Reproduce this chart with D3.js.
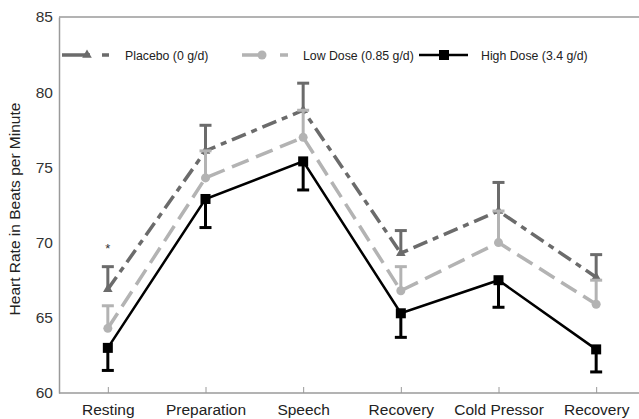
<!DOCTYPE html>
<html>
<head>
<meta charset="utf-8">
<script src="https://cdn.jsdelivr.net/npm/d3@7"></script>
<style>
  body { margin: 0; background: #fff; }
  svg { display: block; font-family: "Liberation Sans", Arial, sans-serif; }
</style>
</head>
<body>
<svg id="chart" width="639" height="419"></svg>
<script>
// categories along the x axis
const phases = ["Resting", "Preparation", "Speech", "Recovery", "Cold Pressor", "Recovery"];
const yTicks = [60, 65, 70, 75, 80, 85];

// mean heart rate per phase
const placebo  = [66.9, 76.1, 78.8, 69.3, 72.1, 67.7];
const lowDose  = [64.3, 74.3, 77.0, 66.8, 70.0, 65.9];
const highDose = [63.0, 72.9, 75.4, 65.3, 67.5, 62.9];

// error bar ends (placebo / low dose go up, high dose goes down)
const placeboErr  = [68.4, 77.8, 80.6, 70.8, 74.0, 69.2];
const lowDoseErr  = [65.8, 76.1, 78.8, 68.4, 72.1, 67.5];
const highDoseErr = [61.5, 71.0, 73.5, 63.7, 65.7, 61.4];

const seriesNames = ["Placebo (0 g/d)", "Low Dose (0.85 g/d)", "High Dose (3.4 g/d)"];

const series = [
  {name: seriesNames[0], values: placebo,  err: placeboErr,  color: "#6b6b6b", dash: "15,6,6,6", width: 3.5, marker: "triangle"},
  {name: seriesNames[1], values: lowDose,  err: lowDoseErr,  color: "#b3b3b3", dash: "18,8",     width: 3.5, marker: "circle"},
  {name: seriesNames[2], values: highDose, err: highDoseErr, color: "#000000", dash: null,       width: 2.5, marker: "square"}
];

const svg = d3.select("#chart");
const plotLeft = 59, plotTop = 17, plotBottom = 393;

const x = d3.scalePoint()
  .domain(d3.range(phases.length))
  .range([plotLeft, 645])
  .padding(0.5);

const y = d3.scaleLinear()
  .domain([60, 85])
  .range([plotBottom, plotTop]);

// frame
svg.append("line")
  .attr("x1", plotLeft).attr("x2", 639).attr("y1", plotTop).attr("y2", plotTop)
  .attr("stroke", "#9a9a9a").attr("stroke-width", 1.5);

const yAxis = svg.append("g")
  .attr("transform", `translate(${plotLeft},0)`)
  .call(d3.axisLeft(y).tickValues(yTicks).tickSize(0).tickPadding(6));
yAxis.select(".domain").attr("stroke", "#9a9a9a").attr("stroke-width", 1.5);
yAxis.selectAll("text").attr("font-size", 15.5).attr("fill", "#333");

const xAxis = svg.append("g")
  .attr("transform", `translate(0,${plotBottom})`)
  .call(d3.axisBottom(x).tickFormat(i => phases[i]).tickSize(-6).tickPadding(11).tickSizeOuter(0));
xAxis.select(".domain").attr("d", `M${plotLeft},0H639`).attr("stroke", "#9a9a9a").attr("stroke-width", 1.5);
xAxis.selectAll(".tick line").attr("stroke", "#9a9a9a");
xAxis.selectAll("text").attr("font-size", 15.5).attr("fill", "#222");

svg.append("text")
  .attr("transform", "translate(20,209) rotate(-90)")
  .attr("text-anchor", "middle")
  .attr("font-size", 15.5)
  .attr("fill", "#222")
  .text("Heart Rate in Beats per Minute");

const line = d3.line()
  .x((d, i) => x(i))
  .y(d => y(d));

function drawMarker(g, type, cx, cy, color) {
  if (type === "square") {
    g.append("rect").attr("x", cx - 5).attr("y", cy - 5).attr("width", 10).attr("height", 10).attr("fill", color);
  } else if (type === "circle") {
    g.append("circle").attr("cx", cx).attr("cy", cy).attr("r", 4.5).attr("fill", color);
  } else {
    g.append("path")
      .attr("d", d3.symbol(d3.symbolTriangle, 40)())
      .attr("transform", `translate(${cx},${cy})`)
      .attr("fill", color);
  }
}

series.forEach(s => {
  const g = svg.append("g");
  // error bars
  s.values.forEach((v, i) => {
    g.append("line")
      .attr("x1", x(i)).attr("x2", x(i))
      .attr("y1", y(v)).attr("y2", y(s.err[i]))
      .attr("stroke", s.color).attr("stroke-width", 3);
    g.append("line")
      .attr("x1", x(i) - 6).attr("x2", x(i) + 6)
      .attr("y1", y(s.err[i])).attr("y2", y(s.err[i]))
      .attr("stroke", s.color).attr("stroke-width", 3);
  });
  g.append("path")
    .datum(s.values)
    .attr("d", line)
    .attr("fill", "none")
    .attr("stroke", s.color)
    .attr("stroke-width", s.width)
    .attr("stroke-dasharray", s.dash);
  s.values.forEach((v, i) => drawMarker(g, s.marker, x(i), y(v), s.color));
});

// significance mark at Resting
svg.append("text")
  .attr("x", x(0)).attr("y", y(69.3))
  .attr("text-anchor", "middle")
  .attr("font-size", 13)
  .attr("fill", "#333")
  .text("*");

// legend
const legendY = 55;
const legendPos = [
  {x0: 62,  x1: 109, mx: 87,  tx: 125, dash: "28,12,7"},
  {x0: 242, x1: 288, mx: 262, tx: 303, dash: "23,15,8"},
  {x0: 419, x1: 468, mx: 444, tx: 481, dash: null}
];
series.forEach((s, k) => {
  const p = legendPos[k];
  const lg = svg.append("g");
  lg.append("line")
    .attr("x1", p.x0).attr("x2", p.x1).attr("y1", legendY).attr("y2", legendY)
    .attr("stroke", s.color).attr("stroke-width", s.width)
    .attr("stroke-dasharray", p.dash);
  drawMarker(lg, s.marker, p.mx, legendY, s.color);
  lg.append("text")
    .attr("x", p.tx).attr("y", legendY + 4.5)
    .attr("font-size", 12.3)
    .attr("fill", "#222")
    .text(s.name);
});
</script>
</body>
</html>
